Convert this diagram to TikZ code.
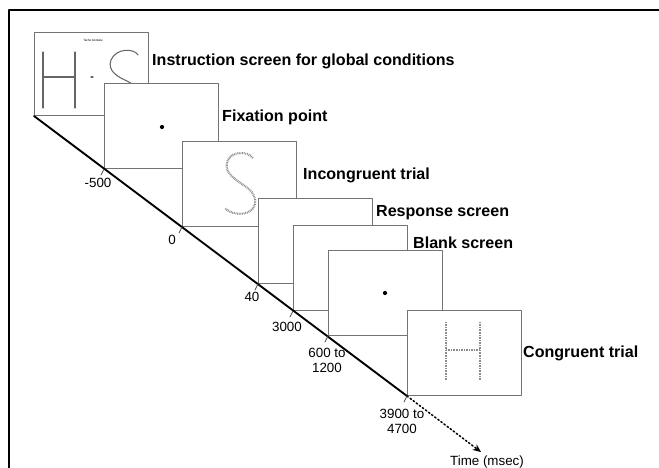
\documentclass[tikz,border=0pt]{standalone}
\usepackage{fontspec}
\setmainfont{Liberation Sans}
\usetikzlibrary{arrows.meta,positioning}
\tikzset{
  every picture/.style={line join=round, line cap=round, >=Stealth},
  screen/.style={draw=black!55, fill=white, line width=0.8pt, inner sep=0pt,
    minimum width=3.42cm, minimum height=2.55cm, anchor=south west},
  caption/.style={font=\fontsize{13.7}{15}\selectfont\bfseries, anchor=west, inner sep=0pt},
  ticklabel/.style={font=\fontsize{11.4}{12.8}\selectfont, align=center, inner sep=0pt},
  letter/.style={draw=black!60, line width=0.9pt},
  dotletter/.style={draw=black!45, line width=1.8pt, line cap=butt, dash pattern=on 0.7pt off 0.7pt},
  tick/.style={draw=black!70, line width=0.6pt},
}

\begin{document}
\begin{tikzpicture}[x=0.03cm,y=-0.03cm]
\useasboundingbox (0,0) rectangle (659,468);
% frame
\draw[line width=2.2pt] (9,470) |- (661,10);

% instruction screen
\node[screen, minimum height=2.49cm] (s1) at (34,116) {};
\node[font=\fontsize{2.6}{3}\selectfont, inner sep=0pt] (tg) at (93,40) {Tache Globale};
\draw[letter] (43,52) -- (43,108) (75,52) -- (75,108) (43,77) -- (75,77);
\draw[letter] (91,77) -- (93,77);
\draw[letter] (138,55) .. controls (134,48) and (116,48) .. (111,60)
  .. controls (107,71) and (118,77) .. (127,81) .. controls (135,85) and (141,92) .. (140,102);

% fixation point
\node[screen] (s2) at (104,169) {};
\fill (162,127) circle[radius=1.8pt];

% incongruent trial
\node[screen] (s3) at (182,227) {};
\draw[dotletter] (253,158) .. controls (248,151) and (232,151) .. (228,160)
  .. controls (222,172) and (236,180) .. (245,186) .. controls (256,193) and (259,205) .. (250,211)
  .. controls (243,216) and (230,214) .. (225,208);

% response, blank, fixation
\node[screen] (s4) at (258,284) {};
\node[screen] (s5) at (293,311) {};
\node[screen] (s6) at (328,336) {};
\fill (385,293) circle[radius=1.8pt];

% congruent trial
\node[screen] (s7) at (407,396) {};
\draw[dotletter] (446,322) -- (446,381) (480,322) -- (480,381);
\draw[dotletter] (446,350) -- (480,350);

% time line
\coordinate (tend) at (481,452);
\draw[line width=1.6pt] (s1.south west) -- (s7.south west);
\draw[line width=1.3pt, dotted, -{Stealth[length=7pt,width=6pt]}] (s7.south west) -- (tend);
\foreach \s in {s2,s3,s4,s5,s6,s7}
  \draw[tick] (\s.south west) -- ++(-3,6);

\node[ticklabel] (t1) at (98,183) {-500};
\node[ticklabel] (t2) at (172,240) {0};
\node[ticklabel] (t3) at (252,297) {40};
\node[ticklabel] (t4) at (287,327) {3000};
\node[ticklabel] (t5) at (327,360) {600 to\\1200};
\node[ticklabel] (t6) at (402,421) {3900 to\\4700};
\node[ticklabel] (time) at (487,462) {Time (msec)};

% captions
\node[caption] (c1) at (152,61) {Instruction screen for global conditions};
\node[caption] (c2) at (222,117) {Fixation point};
\node[caption] (c3) at (303,175) {Incongruent trial};
\node[caption] (c4) at (376,213) {Response screen};
\node[caption] (c5) at (413,243) {Blank screen};
\node[caption] (c6) at (523,353) {Congruent trial};
\end{tikzpicture}
\end{document}
